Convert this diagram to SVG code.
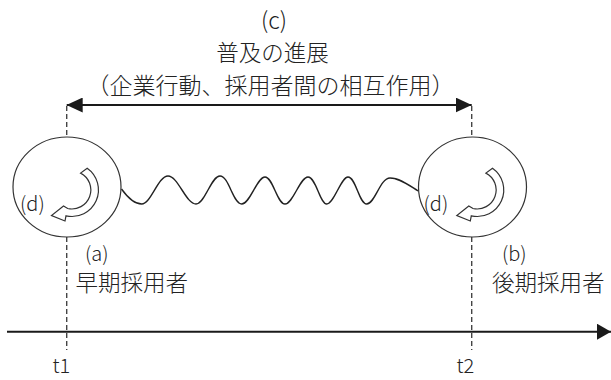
<svg xmlns="http://www.w3.org/2000/svg" width="611" height="380" viewBox="0 0 611 380">
<style>
  text { font-family: "Noto Sans CJK JP", "Noto Sans", sans-serif; fill: #222; font-weight: 300; }
  .circ { fill: none; stroke: #333; stroke-width: 1.2; }
  .dash { fill: none; stroke: #444; stroke-width: 1.4; stroke-dasharray: 5 3; }
  .turn { fill: #fff; stroke: #333; stroke-width: 1.2; stroke-linejoin: miter; }
  .wave { fill: none; stroke: #222; stroke-width: 1.4; }
  .main { fill: none; stroke: #1a1a1a; stroke-width: 2; }
</style>
<defs>
  <marker id="head" markerUnits="userSpaceOnUse" viewBox="0 0 16 15" refX="16" refY="7.5" markerWidth="16" markerHeight="15" orient="auto-start-reverse">
    <path d="M0,0 L16,7.5 L0,15 z" fill="#1a1a1a"/>
  </marker>
  <marker id="axhead" markerUnits="userSpaceOnUse" viewBox="0 0 14 16" refX="14" refY="8" markerWidth="14" markerHeight="16" orient="auto">
    <path d="M0,0 L14,8 L0,16 z" fill="#1a1a1a"/>
  </marker>
  <path id="uturn" d="M87.2,168.3 A26.5,26.5 0 0 1 66,215.8 L65,221 L51.5,215.5 L63.5,206 L67.7,208.5 A19,19 0 0 0 80.6,173.1 Z"/>
</defs>

<g id="title">
  <text x="274" y="29" font-size="23" text-anchor="middle">(c)</text>
  <text x="272.5" y="60.5" font-size="22.5" text-anchor="middle">普及の進展</text>
  <text x="270.5" y="93.5" font-size="23" text-anchor="middle">（企業行動、採用者間の相互作用）</text>
</g>

<g id="connectors">
  <line class="main" x1="66.7" y1="105" x2="471.7" y2="105" marker-start="url(#head)" marker-end="url(#head)"/>
  <line class="main" x1="7" y1="331.7" x2="611" y2="331.7" marker-end="url(#axhead)"/>
  <line class="dash" x1="66.7" y1="106" x2="66.7" y2="137"/>
  <line class="dash" x1="66.7" y1="237" x2="66.7" y2="350"/>
  <line class="dash" x1="471.7" y1="106" x2="471.7" y2="137"/>
  <line class="dash" x1="471.7" y1="237" x2="471.7" y2="350"/>
  <path class="wave" d="M121.5,189 C128,198 134,204 141.7,204 C151,204 158,176 168,176 C178,176 186,204 196,204 C205,204 211,176 220,176 C229,176 233,204 241.7,204 C250,204 257,177 265,177 C273,177 277,204 285,204 C293,204 300,177 308,177 C316,177 320,204 326.7,204 C334,204 341,177 348,177 C356,177 359,204 366.7,204 C375,204 380,178 390,178 C400,178 410,186 418.3,191"/>
</g>

<g id="node-early">
  <ellipse class="circ" cx="67" cy="187" rx="54" ry="50"/>
  <use href="#uturn" class="turn"/>
  <text x="20" y="211" font-size="20">(d)</text>
  <text x="85" y="261" font-size="20">(a)</text>
  <text x="75.5" y="291" font-size="22.5">早期採用者</text>
  <text x="52.5" y="373" font-size="20">t1</text>
</g>

<g id="node-late">
  <ellipse class="circ" cx="472.5" cy="187" rx="54" ry="50"/>
  <use href="#uturn" class="turn" transform="translate(405.3,0)"/>
  <text x="423.5" y="211" font-size="20">(d)</text>
  <text x="502" y="261" font-size="20">(b)</text>
  <text x="492" y="291" font-size="22.5">後期採用者</text>
  <text x="456.5" y="373" font-size="20">t2</text>
</g>
</svg>
